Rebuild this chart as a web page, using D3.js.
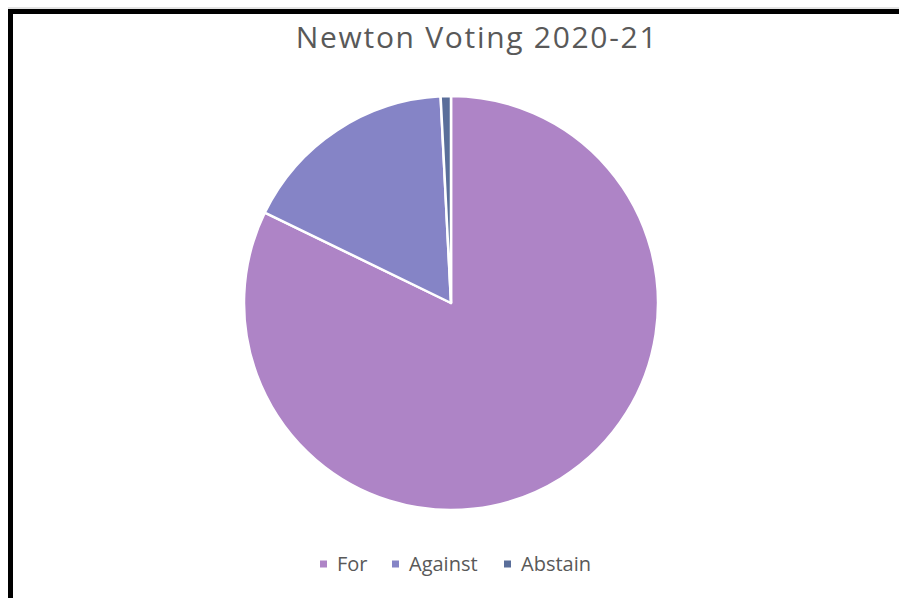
<!DOCTYPE html>
<html>
<head>
<meta charset="utf-8">
<script src="https://cdn.jsdelivr.net/npm/d3@7"></script>
<style>
  body { margin: 0; background: #fff; }
  svg { display: block; }
</style>
</head>
<body>
<svg width="899" height="598"></svg>
<script>
// Data
let categories = ["For", "Against", "Abstain"];
let values = [82.2, 17.0, 0.8];
let colors = ["#ae84c6", "#8584c6", "#5a6e9a"];

let svgWidth = 899, svgHeight = 598;
let cx = 451, cy = 303, radius = 207;

let svg = d3.select("svg");

// Frame (top and left edges visible)
svg.append("line")
    .attr("x1", 8).attr("y1", 8).attr("x2", svgWidth).attr("y2", 8)
    .attr("stroke", "#c8c8c8").attr("stroke-width", 1);
svg.append("path")
    .attr("d", `M10.5,${svgHeight} V11.5 H${svgWidth}`)
    .attr("fill", "none")
    .attr("stroke", "#000")
    .attr("stroke-width", 5);

// Title
svg.append("text")
    .attr("x", 477)
    .attr("y", 48)
    .attr("text-anchor", "middle")
    .attr("font-family", "'Open Sans', sans-serif")
    .attr("font-size", 30)
    .attr("letter-spacing", 1.7)
    .attr("fill", "#595959")
    .text("Newton Voting 2020-21");

// Pie
let pie = d3.pie().sort(null).value(d => d);
let arc = d3.arc().innerRadius(0).outerRadius(radius);

svg.append("g")
    .attr("transform", `translate(${cx}, ${cy})`)
    .selectAll("path")
    .data(pie(values))
    .enter()
    .append("path")
    .attr("d", arc)
    .attr("fill", (d, i) => colors[i])
    .attr("stroke", "#fff")
    .attr("stroke-width", 2.5)
    .attr("stroke-linejoin", "round");

// Legend
let legendX = [320, 392, 504];
let legend = svg.selectAll(".legend")
    .data(categories)
    .enter()
    .append("g")
    .attr("class", "legend")
    .attr("transform", (d, i) => `translate(${legendX[i]}, 564)`);

legend.append("rect")
    .attr("x", 0)
    .attr("y", -3.5)
    .attr("width", 7)
    .attr("height", 7)
    .attr("fill", (d, i) => colors[i]);

legend.append("text")
    .attr("x", 17)
    .attr("y", 7)
    .attr("font-family", "'Open Sans', sans-serif")
    .attr("font-size", 20)
    .attr("fill", "#595959")
    .text(d => d);
</script>
</body>
</html>
